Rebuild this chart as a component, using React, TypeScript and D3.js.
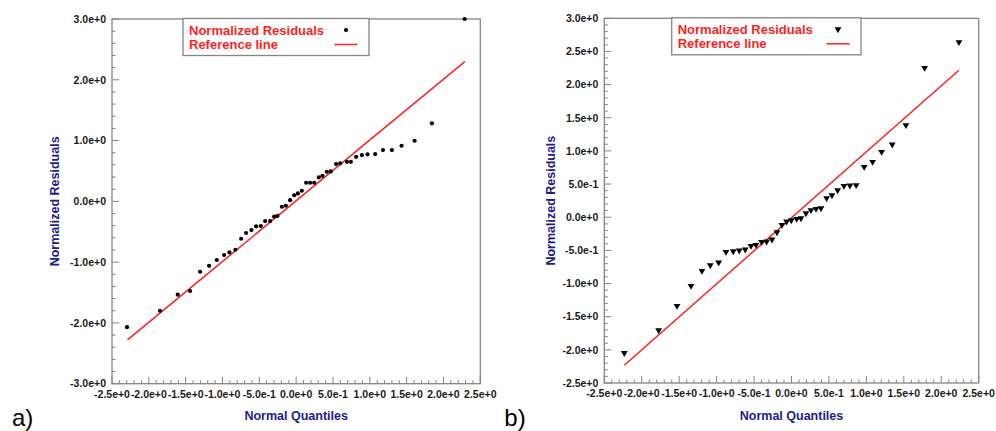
import * as d3 from "d3";

// Panel a) - normal quantiles vs normalized residuals (46 points)
const quantilesA = [
  -2.296, -1.848, -1.607, -1.44, -1.304, -1.182, -1.078, -0.978, -0.906, -0.825,
  -0.747, -0.679, -0.607, -0.543, -0.48, -0.421, -0.353, -0.299, -0.254, -0.194,
  -0.14, -0.082, -0.027, 0.023, 0.077, 0.136, 0.19, 0.245, 0.308, 0.357,
  0.417, 0.471, 0.543, 0.598, 0.689, 0.743, 0.815, 0.893, 0.969, 1.073,
  1.178, 1.3, 1.431, 1.608, 1.843, 2.287,
];
const residualsA = [
  -2.07, -1.8, -1.536, -1.475, -1.158, -1.06, -0.965, -0.883, -0.84, -0.796,
  -0.615, -0.521, -0.472, -0.411, -0.406, -0.324, -0.324, -0.25, -0.24, -0.089,
  -0.072, 0.02, 0.1, 0.13, 0.174, 0.306, 0.306, 0.306, 0.395, 0.42,
  0.487, 0.493, 0.613, 0.625, 0.651, 0.651, 0.733, 0.762, 0.773, 0.778,
  0.844, 0.844, 0.915, 0.997, 1.283, 3.0,
];
const refLineA = [
  [-2.29, -2.28],
  [2.29, 2.3],
];

// Panel b) - 39 points
const quantilesB = [
  -2.233, -1.774, -1.529, -1.342, -1.196, -1.085, -0.973, -0.875, -0.778, -0.698,
  -0.618, -0.541, -0.475, -0.399, -0.332, -0.261, -0.194, -0.128, -0.065, -0.003,
  0.069, 0.126, 0.193, 0.26, 0.327, 0.394, 0.469, 0.54, 0.616, 0.7,
  0.78, 0.864, 0.971, 1.083, 1.203, 1.345, 1.528, 1.778, 2.236,
];
const residualsB = [
  -2.047, -1.704, -1.338, -1.036, -0.81, -0.724, -0.683, -0.523, -0.513, -0.503,
  -0.488, -0.433, -0.418, -0.372, -0.367, -0.337, -0.226, -0.116, -0.065, -0.045,
  -0.025, -0.015, 0.06, 0.106, 0.126, 0.136, 0.287, 0.332, 0.407, 0.472,
  0.478, 0.483, 0.759, 0.834, 0.985, 1.096, 1.388, 2.252, 2.64,
];
const refLineB = [
  [-2.233, -2.232],
  [2.236, 2.217],
];

const xTicks = [-2.5, -2.0, -1.5, -1.0, -0.5, 0.0, 0.5, 1.0, 1.5, 2.0, 2.5];
const xTickLabels = [
  "-2.5e+0", "-2.0e+0", "-1.5e+0", "-1.0e+0", "-5.0e-1", "0.0e+0",
  "5.0e-1", "1.0e+0", "1.5e+0", "2.0e+0", "2.5e+0",
];
const yTicksA = [-3.0, -2.0, -1.0, 0.0, 1.0, 2.0, 3.0];
const yTickLabelsA = ["-3.0e+0", "-2.0e+0", "-1.0e+0", "0.0e+0", "1.0e+0", "2.0e+0", "3.0e+0"];
const yTicksB = [-2.5, -2.0, -1.5, -1.0, -0.5, 0.0, 0.5, 1.0, 1.5, 2.0, 2.5, 3.0];
const yTickLabelsB = [
  "-2.5e+0", "-2.0e+0", "-1.5e+0", "-1.0e+0", "-5.0e-1", "0.0e+0",
  "5.0e-1", "1.0e+0", "1.5e+0", "2.0e+0", "2.5e+0", "3.0e+0",
];

const legendLabels = ["Normalized Residuals", "Reference line"];
const xTitle = "Normal Quantiles";
const yTitle = "Normalized Residuals";

const FONT = "Arial, 'Liberation Sans', Helvetica, sans-serif";
const RED = "#ff1f1f";
const NAVY = "#1c1c8c";
const FRAME = "#858585";

interface PanelProps {
  tag: string;
  left: number;
  right: number;
  top: number;
  bottom: number;
  yDomain: [number, number];
  yTicks: number[];
  yTickLabels: string[];
  yMinorStep: number;
  xs: number[];
  ys: number[];
  refLine: number[][];
  marker: "dot" | "triangle";
  legendX: number;
  legendW: number;
  titleX: number;
}

function Panel(p: PanelProps) {
  const x = d3.scaleLinear().domain([-2.5, 2.5]).range([p.left, p.right]);
  const y = d3.scaleLinear().domain(p.yDomain).range([p.bottom, p.top]);

  const xMinor = d3.range(-2.5, 2.5001, 0.1).filter((v) => !xTicks.some((t) => Math.abs(t - v) < 1e-6));
  const yMinor = d3
    .range(p.yDomain[0], p.yDomain[1] + 1e-4, p.yMinorStep)
    .filter((v) => !p.yTicks.some((t) => Math.abs(t - v) < 1e-6));

  const line = d3
    .line<number[]>()
    .x((d) => x(d[0]))
    .y((d) => y(d[1]));

  const tri = d3.symbol().type(d3.symbolTriangle).size(20)() || "";

  const drawMarker = (cx: number, cy: number, key: number | string) =>
    p.marker === "dot" ? (
      <circle key={key} cx={cx} cy={cy} r={2.1} fill="#000" />
    ) : (
      <path key={key} d={tri} transform={`translate(${cx},${cy}) rotate(180)`} fill="#000" />
    );

  const midY = (p.top + p.bottom) / 2;
  const midX = (p.left + p.right) / 2;
  const legTop = p.top - 0.5;

  return (
    <g>
      {/* Frame */}
      <rect
        x={p.left}
        y={p.top}
        width={p.right - p.left}
        height={p.bottom - p.top}
        fill="none"
        stroke={FRAME}
        strokeWidth={1.3}
      />

      {/* Ticks (inside the frame) */}
      {xTicks.map((t) => (
        <line key={"xt" + t} x1={x(t)} x2={x(t)} y1={p.bottom} y2={p.bottom - 7} stroke={FRAME} />
      ))}
      {xMinor.map((t, i) => (
        <line key={"xm" + i} x1={x(t)} x2={x(t)} y1={p.bottom} y2={p.bottom - 3.5} stroke={FRAME} />
      ))}
      {p.yTicks.map((t) => (
        <line key={"yt" + t} x1={p.left} x2={p.left + 7} y1={y(t)} y2={y(t)} stroke={FRAME} />
      ))}
      {yMinor.map((t, i) => (
        <line key={"ym" + i} x1={p.left} x2={p.left + 3.5} y1={y(t)} y2={y(t)} stroke={FRAME} />
      ))}

      {/* Tick labels */}
      {xTicks.map((t, i) => (
        <text
          key={"xl" + t}
          x={x(t)}
          y={p.bottom + 14}
          textAnchor="middle"
          fontFamily={FONT}
          fontWeight="bold"
          fontSize={10.5}
          fill="#1a1a1a"
        >
          {xTickLabels[i]}
        </text>
      ))}
      {p.yTicks.map((t, i) => (
        <text
          key={"yl" + t}
          x={p.left - 6}
          y={y(t)}
          dy="0.36em"
          textAnchor="end"
          fontFamily={FONT}
          fontWeight="bold"
          fontSize={10.5}
          fill="#1a1a1a"
        >
          {p.yTickLabels[i]}
        </text>
      ))}

      {/* Axis titles */}
      <text
        x={midX}
        y={420}
        textAnchor="middle"
        fontFamily={FONT}
        fontWeight="bold"
        fontSize={12.5}
        fill={NAVY}
      >
        {xTitle}
      </text>
      <text
        transform={`translate(${p.titleX},${midY}) rotate(-90)`}
        textAnchor="middle"
        fontFamily={FONT}
        fontWeight="bold"
        fontSize={12.5}
        fill={NAVY}
      >
        {yTitle}
      </text>

      {/* Reference line */}
      <path d={line(p.refLine) || ""} fill="none" stroke={RED} strokeWidth={1.5} />

      {/* Points */}
      {p.xs.map((q, i) => drawMarker(x(q), y(p.ys[i]), i))}

      {/* Legend */}
      <rect
        x={p.legendX}
        y={legTop}
        width={p.legendW}
        height={37}
        fill="#fff"
        stroke={FRAME}
        strokeWidth={1.3}
      />
      {legendLabels.map((label, i) => (
        <text
          key={label}
          x={p.legendX + 6}
          y={legTop + 16 + i * 14.5}
          fontFamily={FONT}
          fontWeight="bold"
          fontSize={13}
          fill={RED}
        >
          {label}
        </text>
      ))}
      {drawMarker(p.legendX + p.legendW - 23, legTop + 11.5, "leg")}
      <line
        x1={p.legendX + p.legendW - 34.5}
        x2={p.legendX + p.legendW - 11.5}
        y1={legTop + 26}
        y2={legTop + 26}
        stroke={RED}
        strokeWidth={1.5}
      />

      {/* Panel tag */}
      <text x={p.left - 100} y={426} fontFamily={FONT} fontSize={24} fill="#000">
        {p.tag}
      </text>
    </g>
  );
}

export default function App() {
  return (
    <svg
      width={996}
      height={431}
      style={{ position: "absolute", left: 0, top: 0, background: "#fff" }}
    >
      <Panel
        tag="a)"
        left={112}
        right={480.3}
        top={19}
        bottom={383.7}
        yDomain={[-3, 3]}
        yTicks={yTicksA}
        yTickLabels={yTickLabelsA}
        yMinorStep={0.2}
        xs={quantilesA}
        ys={residualsA}
        refLine={refLineA}
        marker="dot"
        legendX={183}
        legendW={186}
        titleX={58.5}
      />
      <Panel
        tag="b)"
        left={604.3}
        right={978.7}
        top={18.3}
        bottom={383}
        yDomain={[-2.5, 3]}
        yTicks={yTicksB}
        yTickLabels={yTickLabelsB}
        yMinorStep={0.1}
        xs={quantilesB}
        ys={residualsB}
        refLine={refLineB}
        marker="triangle"
        legendX={671.7}
        legendW={189.3}
        titleX={554.5}
      />
    </svg>
  );
}
